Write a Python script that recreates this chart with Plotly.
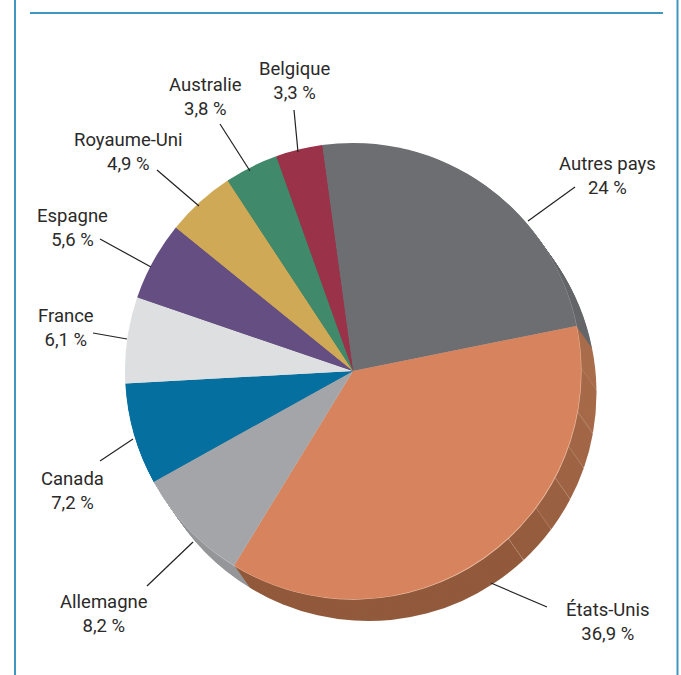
import plotly.graph_objects as go

WIDTH, HEIGHT = 681, 675

# Share of each country, in percent, clockwise from the top-left edge of "Autres pays"
countries = ["Autres pays", "États-Unis", "Allemagne", "Canada", "France",
             "Espagne", "Royaume-Uni", "Australie", "Belgique"]
shares = [24, 36.9, 8.2, 7.2, 6.1, 5.6, 4.9, 3.8, 3.3]
top_colors = ["#6d6e71", "#d7845e", "#a4a5a8", "#0570a0", "#dedfe1",
              "#654f82", "#cfa955", "#40896b", "#9a3249"]
rim_colors = ["#a9aaac", "#ecc0a8", "#d8d9db", "#0570a0", "#dedfe1",
              "#654f82", "#cfa955", "#40896b", "#9a3249"]
side_colors = ["#66676a", None, "#96979a", "#04597f", "#b5b6b8",
               "#503f68", "#a58744", "#336e56", "#7b283a"]

# The wall of the "États-Unis" slice is cut into facets that darken towards the bottom
us_facets = [2.94, 3.06, 2.50, 2.39, 2.50, 2.89, 20.62]
us_facet_colors = ["#a96d4c", "#a66a49", "#a26747", "#9e6445", "#9a6142", "#955d3e", "#925a3c"]
FACET_SEAM = 0.04
FACET_SEAM_COLOR = "#c9a48f"

# Disc geometry in page pixels
CENTER_X, CENTER_Y, RADIUS = 353, 371, 228
DEPTH_X, DEPTH_Y = 15.5, 22
ROTATION = -7.8

FONT = "Roboto, Liberation Sans, sans-serif"
TEXT_COLOR = "#2b2a29"
FRAME_COLOR = "#3f97bf"

# Label centre (x, y) and leader line (x0, y0, x1, y1) per country
label_layout = {
    "Autres pays": ((607, 175.5), (575, 187, 528, 221)),
    "États-Unis": ((608, 621.5), (491, 583, 547, 607)),
    "Allemagne": ((104, 613.5), (147, 586, 193, 542)),
    "Canada": ((72, 490.5), (100, 461, 133, 439)),
    "France": ((66, 327.5), (93, 333, 127, 339)),
    "Espagne": ((72, 228.5), (100, 239, 151, 267)),
    "Royaume-Uni": ((128, 151.5), (157, 170, 199, 206)),
    "Australie": ((205, 97.5), (220, 124, 250, 171)),
    "Belgique": ((294, 81.5), (294, 110, 298, 152)),
}


def px_x(x):
    return x / WIDTH


def px_y(y):
    return 1 - y / HEIGHT


def disc_domain(dx=0.0, dy=0.0):
    return dict(
        x=[px_x(CENTER_X - RADIUS + dx), px_x(CENTER_X + RADIUS + dx)],
        y=[px_y(CENTER_Y + RADIUS + dy), px_y(CENTER_Y - RADIUS + dy)],
    )


def pie(values, colors, dx=0.0, dy=0.0):
    return go.Pie(
        values=values,
        marker=dict(colors=colors, line=dict(width=0)),
        domain=disc_domain(dx, dy),
        sort=False,
        direction="clockwise",
        rotation=ROTATION,
        textinfo="none",
        hoverinfo="skip",
        showlegend=False,
    )


def percent_label(value):
    return f"{value:g}".replace(".", ",") + " %"


# Expand the wall of the "États-Unis" slice into facets and thin seams
side_values, side_fill = [], []
for share, color, side in zip(shares, top_colors, side_colors):
    if side is not None:
        side_values.append(share)
        side_fill.append(side)
        continue
    for i, (facet, facet_color) in enumerate(zip(us_facets, us_facet_colors)):
        if i < len(us_facets) - 1:
            side_values += [facet - FACET_SEAM, FACET_SEAM]
            side_fill += [facet_color, FACET_SEAM_COLOR]
        else:
            side_values.append(facet)
            side_fill.append(facet_color)

fig = go.Figure()

# Wall of the pie: copies of the disc stacked from the deepest one upward
for step in range(int(DEPTH_Y), 0, -1):
    fig.add_trace(pie(side_values, side_fill,
                      DEPTH_X * step / DEPTH_Y, DEPTH_Y * step / DEPTH_Y))

# Thin highlight along the rim, then the top face
fig.add_trace(pie(shares, rim_colors, 0.5, 0.7))
fig.add_trace(pie(shares, top_colors))

shapes = [
    dict(type="line", xref="paper", yref="paper", x0=px_x(15), x1=px_x(15),
         y0=0, y1=1, line=dict(color=FRAME_COLOR, width=2)),
    dict(type="line", xref="paper", yref="paper", x0=px_x(677.5), x1=px_x(677.5),
         y0=0, y1=1, line=dict(color=FRAME_COLOR, width=2)),
    dict(type="line", xref="paper", yref="paper", x0=px_x(30), x1=px_x(663),
         y0=px_y(13), y1=px_y(13), line=dict(color=FRAME_COLOR, width=2)),
]
annotations = []
for name, share in zip(countries, shares):
    (tx, ty), (x0, y0, x1, y1) = label_layout[name]
    shapes.append(dict(type="line", xref="paper", yref="paper", layer="above",
                       x0=px_x(x0), y0=px_y(y0), x1=px_x(x1), y1=px_y(y1),
                       line=dict(color="#222222", width=1.2)))
    annotations.append(dict(
        x=px_x(tx), y=px_y(ty), xref="paper", yref="paper",
        xanchor="center", yanchor="middle", showarrow=False, align="center",
        text=f"{name}<br>{percent_label(share)}",
        font=dict(family=FONT, size=18.5, color=TEXT_COLOR),
    ))

fig.update_layout(
    width=WIDTH, height=HEIGHT,
    margin=dict(l=0, r=0, t=0, b=0),
    paper_bgcolor="white",
    shapes=shapes,
    annotations=annotations,
)

fig.write_html("out.html")
